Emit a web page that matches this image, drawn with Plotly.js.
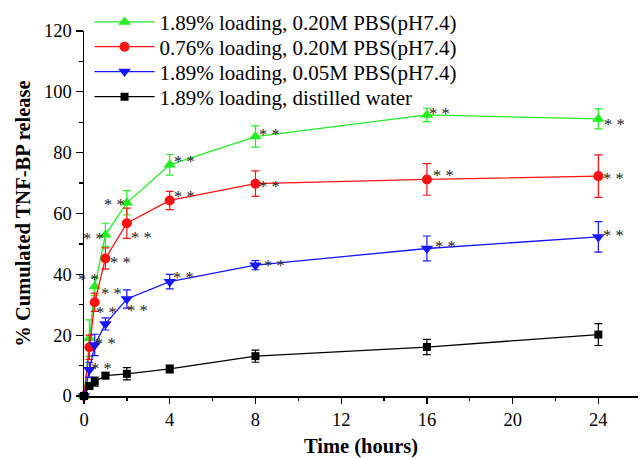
<!DOCTYPE html>
<html><head><meta charset="utf-8">
<script src="https://cdn.plot.ly/plotly-3.0.1.min.js"></script>
<style>body{margin:0;background:#fff}#c{width:640px;height:459px}</style>
</head><body><div id="c"></div>
<script>
const time = [0, 0.25, 0.5, 1, 2, 4, 8, 16, 24];
const green = [0, 19, 36, 53, 63.5, 76, 85.3, 92.4, 91.1];
const greenErr = [0, 6, 3, 3.8, 4, 3.4, 3.5, 2.2, 3.3];
const red = [0, 16, 30.8, 45.2, 56.8, 64.3, 69.8, 71.2, 72.3];
const redErr = [0, 4, 3, 3.5, 5, 3, 4.2, 5.2, 7];
const blue = [0, 8.6, 16.8, 23.7, 31.9, 37.6, 43, 48.5, 52.3];
const blueErr = [0, 2.5, 3.5, 2, 3, 2.4, 1.5, 4.1, 5];
const black = [0, 3.3, 4.7, 6.7, 7.3, 8.9, 13.1, 16.1, 20.2];
const blackErr = [0, 1, 1.5, 1, 2, 1.3, 2, 2.5, 3.6];
const names = ["1.89% loading, 0.20M PBS(pH7.4)", "0.76% loading, 0.20M PBS(pH7.4)",
               "1.89% loading, 0.05M PBS(pH7.4)", "1.89% loading, distilled water"];
const xTicks = [0, 4, 8, 12, 16, 20, 24];
const yTicks = [0, 20, 40, 60, 80, 100, 120];
// significance marks "**" positions (data units)
const starX = [0.44, 1.42, 2.68, 1.70, 0.21, 1.28, 1.05, 1.0, 0.82, 2.50, 4.64, 4.69, 4.69, 8.66, 8.66, 8.89, 16.59, 16.78, 16.87, 24.76, 24.71, 24.71];
const starY = [53.9, 65.1, 54.2, 46.0, 40.4, 36.0, 29.75, 19.4, 11.2, 30.2, 41.1, 79.2, 67.7, 88.1, 71.0, 45.0, 95.0, 74.6, 51.3, 91.4, 73.6, 54.9];

const F = "Liberation Serif, Times New Roman, serif";
const legendRowsY = [1.024, 0.956, 0.888, 0.819];
function tr(y, e, name, color, sym, size, lg) {
  return {x: time, y: y, name: name, type: 'scatter', mode: 'lines+markers', cliponaxis: false,
    legend: lg,
    line: {color: color, width: 1.3},
    marker: {color: color, symbol: sym, size: size},
    error_y: {type: 'data', array: e, visible: true, color: color, thickness: 1.2, width: 4}};
}
const data = [
  tr(green, greenErr, names[0], '#22ee22', 'triangle-up', 11, 'legend'),
  tr(red, redErr, names[1], '#ff1111', 'circle', 10, 'legend2'),
  tr(blue, blueErr, names[2], '#1515ff', 'triangle-down', 11, 'legend3'),
  tr(black, blackErr, names[3], '#000000', 'square', 8, 'legend4')
];
const annotations = starX.map((x, i) => ({x: x, y: starY[i], text: '* *', showarrow: false,
  xref: 'x', yref: 'y', yshift: -3, height: 12, valign: 'top', borderpad: 0,
  font: {family: F, size: 16.5, color: '#222'}}));
function lgd(i) {
  return {x: 0.01, y: legendRowsY[i], xanchor: 'left', yanchor: 'middle', bgcolor: 'rgba(0,0,0,0)',
    font: {family: F, size: 21, color: '#000'}, itemwidth: 60, borderwidth: 0};
}
const layout = {
  width: 640, height: 459,
  margin: {l: 84, r: 2, t: 31, b: 63},
  paper_bgcolor: '#fff', plot_bgcolor: '#fff',
  showlegend: true,
  legend: lgd(0), legend2: lgd(1), legend3: lgd(2), legend4: lgd(3),
  font: {family: F, size: 18, color: '#000'},
  xaxis: {range: [0, 25.85], tickmode: 'array', tickvals: xTicks,
    ticks: 'outside', ticklen: 6, tickwidth: 1.3, tickcolor: '#000',
    minor: {tickvals: [2, 6, 10, 14, 18, 22], ticks: 'outside', ticklen: 3, tickwidth: 1.3, tickcolor: '#000'},
    showline: true, linecolor: '#000', linewidth: 1.5, showgrid: false, zeroline: false,
    tickfont: {family: F, size: 18.5},
    title: {text: '<b>Time (hours)</b>', font: {family: F, size: 20.5}, standoff: 10}},
  yaxis: {range: [0, 120], tickmode: 'array', tickvals: yTicks,
    ticks: 'outside', ticklen: 7, tickwidth: 1.3, tickcolor: '#000',
    minor: {tickvals: [10, 30, 50, 70, 90, 110], ticks: 'outside', ticklen: 4, tickwidth: 1.3, tickcolor: '#000'},
    showline: true, linecolor: '#000', linewidth: 1.5, showgrid: false, zeroline: false,
    tickfont: {family: F, size: 18.5},
    title: {text: '<b>% Cumulated TNF-BP release</b>', font: {family: F, size: 20.5}, standoff: 8}},
  annotations: annotations
};
Plotly.newPlot('c', data, layout, {displayModeBar: false, staticPlot: true});
</script></body></html>
